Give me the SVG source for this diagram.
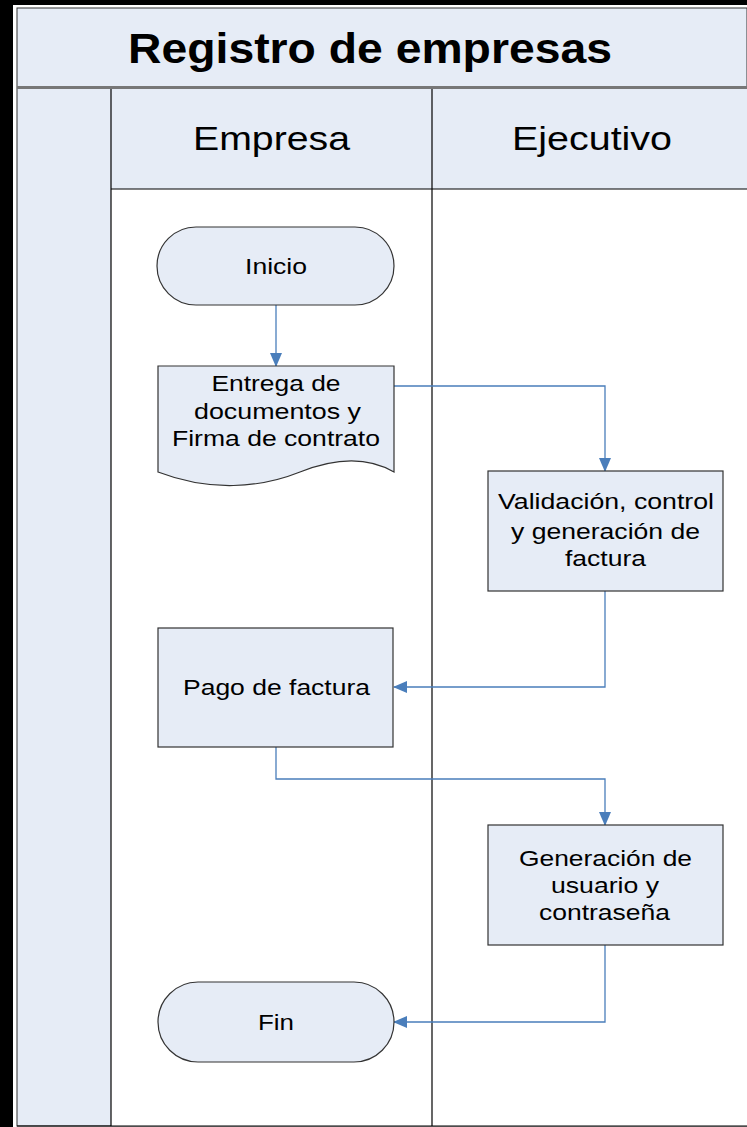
<svg xmlns="http://www.w3.org/2000/svg" width="747" height="1127" viewBox="0 0 747 1127">
<defs>
<style>
.bg{fill:#e6ecf6}
.node{fill:#e6ecf6;stroke:#333;stroke-width:1.2}
.t{font-family:"Liberation Sans",Arial,sans-serif;font-size:22px;fill:#000;text-anchor:middle}
.h{font-family:"Liberation Sans",Arial,sans-serif;font-size:34px;fill:#000;text-anchor:middle}
.conn{fill:none;stroke:#4a7ebb;stroke-width:1.3}
</style>
<marker id="arr" markerWidth="14" markerHeight="12" refX="13" refY="6" orient="auto" markerUnits="userSpaceOnUse">
<path d="M0,0 L14,6 L0,12 z" fill="#4a7ebb"/>
</marker>
</defs>
<rect x="0" y="0" width="747" height="1127" fill="#000"/>
<rect x="13" y="5" width="734" height="1122" fill="#fff"/>
<g id="pool">
<rect x="17" y="8" width="730" height="1118" class="bg" stroke="#333" stroke-width="1"/>
<text x="370" y="63" font-family="Liberation Sans,Arial,sans-serif" font-size="42" font-weight="bold" text-anchor="middle" textLength="484" lengthAdjust="spacingAndGlyphs">Registro de empresas</text>
<line x1="17" y1="87.5" x2="747" y2="87.5" stroke="#777" stroke-width="3"/>
<rect x="111" y="89" width="636" height="1037" fill="#fff"/>
<rect x="111" y="89" width="636" height="100" class="bg"/>
<line x1="111" y1="89" x2="111" y2="1126" stroke="#000" stroke-width="1.2"/>
<line x1="432" y1="89" x2="432" y2="1126" stroke="#000" stroke-width="1.2"/>
<line x1="111" y1="189" x2="747" y2="189" stroke="#000" stroke-width="1.2"/>
<line x1="17" y1="1126" x2="747" y2="1126" stroke="#000" stroke-width="1.2"/>
<text class="h" x="271.5" y="150" textLength="157" lengthAdjust="spacingAndGlyphs">Empresa</text>
<text class="h" x="592" y="150" textLength="160" lengthAdjust="spacingAndGlyphs">Ejecutivo</text>
</g>
<g id="connectors">
<path class="conn" d="M276,305 V366" marker-end="url(#arr)"/>
<path class="conn" d="M394,386 H605 V471" marker-end="url(#arr)"/>
<path class="conn" d="M605,591 V687 H394" marker-end="url(#arr)"/>
<path class="conn" d="M276,747 V779 H605 V825" marker-end="url(#arr)"/>
<path class="conn" d="M605,945 V1022 H394" marker-end="url(#arr)"/>
</g>
<g id="inicio">
<rect class="node" x="157" y="227" width="237" height="78" rx="39"/>
<text class="t" x="276" y="274" textLength="62" lengthAdjust="spacingAndGlyphs">Inicio</text>
</g>
<g id="entrega">
<path class="node" d="M158,366 H394 V472 C370,458 340,456 300,472 C260,488 210,492 158,472 Z"/>
<text class="t" x="276" y="391" textLength="129" lengthAdjust="spacingAndGlyphs">Entrega de</text>
<text class="t" x="277.5" y="419" textLength="167" lengthAdjust="spacingAndGlyphs">documentos y</text>
<text class="t" x="276" y="446" textLength="208" lengthAdjust="spacingAndGlyphs">Firma de contrato</text>
</g>
<g id="validacion">
<rect class="node" x="488" y="471" width="235" height="120"/>
<text class="t" x="606" y="509" textLength="216" lengthAdjust="spacingAndGlyphs">Validación, control</text>
<text class="t" x="605.5" y="539" textLength="189" lengthAdjust="spacingAndGlyphs">y generación de</text>
<text class="t" x="605.5" y="566" textLength="81" lengthAdjust="spacingAndGlyphs">factura</text>
</g>
<g id="pago">
<rect class="node" x="158" y="628" width="235" height="119"/>
<text class="t" x="276.5" y="695" textLength="187" lengthAdjust="spacingAndGlyphs">Pago de factura</text>
</g>
<g id="generacion">
<rect class="node" x="488" y="825" width="235" height="120"/>
<text class="t" x="605.5" y="866" textLength="173" lengthAdjust="spacingAndGlyphs">Generación de</text>
<text class="t" x="605" y="893" textLength="108" lengthAdjust="spacingAndGlyphs">usuario y</text>
<text class="t" x="604.5" y="920" textLength="131" lengthAdjust="spacingAndGlyphs">contraseña</text>
</g>
<g id="fin">
<rect class="node" x="158" y="982" width="236" height="80" rx="40"/>
<text class="t" x="276" y="1030" textLength="36" lengthAdjust="spacingAndGlyphs">Fin</text>
</g>
</svg>
